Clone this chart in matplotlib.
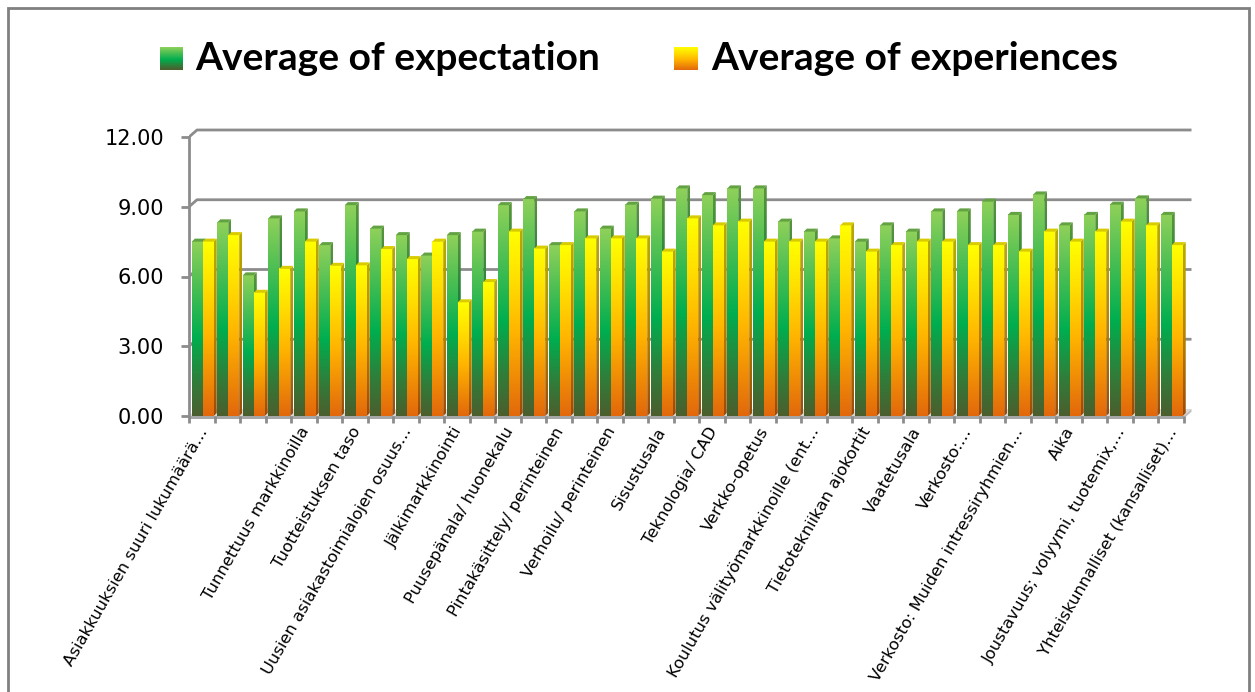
import numpy as np
import matplotlib
matplotlib.use("Agg")
import matplotlib.pyplot as plt
from matplotlib.colors import LinearSegmentedColormap
from matplotlib.patches import Polygon, Rectangle
from matplotlib.transforms import ScaledTranslation

# ---- data ---------------------------------------------------------------
series_names = ["Average of expectation", "Average of experiences"]

expectation = [7.50, 8.33, 6.05, 8.50, 8.80, 7.35, 9.07, 8.06, 7.78, 6.90,
               7.78, 7.93, 9.07, 9.33, 7.35, 8.80, 8.06, 9.09, 9.35, 9.79,
               9.50, 9.79, 9.79, 8.36, 7.93, 7.64, 7.50, 8.20, 7.93, 8.80,
               8.80, 9.22, 8.65, 9.53, 8.20, 8.65, 9.09, 9.36, 8.65]

experiences = [7.50, 7.78, 5.30, 6.33, 7.50, 6.46, 6.48, 7.18, 6.75, 7.50,
               4.89, 5.76, 7.93, 7.20, 7.35, 7.64, 7.64, 7.64, 7.07, 8.50,
               8.20, 8.36, 7.50, 7.50, 7.50, 8.20, 7.07, 7.35, 7.50, 7.50,
               7.35, 7.35, 7.07, 7.93, 7.50, 7.93, 8.36, 8.20, 7.35]

# every second category carries a visible label
category_labels = [
    "Asiakkuuksien suuri lukumäärä…",
    "",
    "Tunnettuus markkinoilla",
    "Tuotteistuksen taso",
    "Uusien asiakastoimialojen osuus…",
    "Jälkimarkkinointi",
    "Puusepänala/ huonekalu",
    "Pintakäsittely/ perinteinen",
    "Verhoilu/ perinteinen",
    "Sisustusala",
    "Teknologia/ CAD",
    "Verkko-opetus",
    "Koulutus välityömarkkinoille (ent…",
    "Tietotekniikan ajokortit",
    "Vaatetusala",
    "Verkosto:…",
    "Verkosto: Muiden intressiryhmien…",
    "Aika",
    "Joustavuus; volyymi, tuotemix,…",
    "Yhteiskunnalliset (kansalliset)…",
]

y_ticks = [0, 3, 6, 9, 12]

# ---- styling -----------------------------------------------------------
W, H = 1255, 692
GRID = "#8C8C8C"

green_front = LinearSegmentedColormap.from_list(
    "gf", [(0, "#4B5E2E"), (0.18, "#337A38"), (0.45, "#00AE4F"),
           (0.75, "#4DBF53"), (1, "#8FD15A")])
green_side = LinearSegmentedColormap.from_list(
    "gs", [(0, "#34421F"), (0.45, "#00793A"), (1, "#5A963C")])
yellow_front = LinearSegmentedColormap.from_list(
    "yf", [(0, "#E2680C"), (0.45, "#FFB400"), (0.75, "#FFE000"), (1, "#FFFF00")])
yellow_side = LinearSegmentedColormap.from_list(
    "ys", [(0, "#9C4A08"), (0.45, "#B58000"), (1, "#B8AC00")])
green_top = "#62A242"
yellow_top = "#D8CB00"

fig = plt.figure(figsize=(W / 100, H / 100), dpi=100)

# chart frame
fig.patches.append(Rectangle((8 / W, -0.05), (1249 - 8) / W, 1 - 8 / H + 0.05,
                             transform=fig.transFigure, fill=False,
                             edgecolor="#808080", linewidth=2))

cat_px, unit_px = 25.5, 23.25
left_px, right_px, top_px, base_px = 189, 1200, 120, 416
ax = fig.add_axes([left_px / W, 1 - base_px / H,
                   (right_px - left_px) / W, (base_px - top_px) / H])
ax.set_xlim(-0.5, -0.5 + (right_px - left_px) / cat_px)
ax.set_ylim(0, (base_px - top_px) / unit_px)
ax.patch.set_alpha(0)

n = len(expectation)
dx, dy = 8 / cat_px, 7 / unit_px        # depth of the walls
sdx, sdy = 3 / cat_px, 3 / unit_px      # depth of each column
bw = 0.43

# back-wall gridlines
for v in y_ticks[1:]:
    ax.plot([-0.5, -0.5 + dx, n - 0.5 + dx], [v, v + dy, v + dy],
            color=GRID, lw=2, solid_capstyle="butt", zorder=1)

# floor slab
ax.add_patch(Polygon([(-0.5, 0), (n - 0.5, 0), (n - 0.5 + dx, dy), (-0.5 + dx, dy)],
                     closed=True, facecolor="#D9D9D9", edgecolor="none", zorder=1))
ax.add_patch(Rectangle((-0.5, -0.12), n, 0.12, facecolor="#A6A6A6",
                       edgecolor="none", zorder=1, clip_on=False))
ax.add_patch(Polygon([(n - 0.5, -0.12), (n - 0.5, 0), (n - 0.5 + dx, dy),
                      (n - 0.5 + dx, dy - 0.12)], closed=True,
                     facecolor="#BFBFBF", edgecolor="none", zorder=1, clip_on=False))

grad = np.linspace(0, 1, 256).reshape(-1, 1)


def column(x0, v, cm_front, cm_side, top_color, z):
    ax.imshow(grad, extent=[x0, x0 + bw, 0, v], origin="lower", cmap=cm_front,
              aspect="auto", interpolation="bilinear", zorder=z)
    side = Polygon([(x0 + bw, 0), (x0 + bw + sdx, sdy), (x0 + bw + sdx, v + sdy),
                    (x0 + bw, v)], closed=True, facecolor="none",
                   edgecolor="none", transform=ax.transData)
    ax.add_patch(side)
    im = ax.imshow(grad, extent=[x0 + bw, x0 + bw + sdx, 0, v + sdy],
                   origin="lower", cmap=cm_side, aspect="auto",
                   interpolation="bilinear", zorder=z)
    im.set_clip_path(side)
    ax.add_patch(Polygon([(x0, v), (x0 + bw, v), (x0 + bw + sdx, v + sdy),
                          (x0 + sdx, v + sdy)], closed=True,
                         facecolor=top_color, edgecolor="none", zorder=z))


for i in range(n):
    column(i - 0.39, expectation[i], green_front, green_side, green_top, 2 + i * 0.01)
    column(i + 0.04, experiences[i], yellow_front, yellow_side, yellow_top, 2.005 + i * 0.01)

# axes, ticks and labels
for s in ("top", "right", "bottom"):
    ax.spines[s].set_visible(False)
ax.spines["left"].set_bounds(0, 12)
ax.spines["left"].set_color(GRID)
ax.spines["left"].set_linewidth(2)

ax.set_yticks(y_ticks)
ax.set_yticklabels([f"{v:.2f}" for v in y_ticks])
ax.tick_params(axis="y", length=6, width=2, color=GRID, pad=12,
               labelsize=15, labelcolor="black")

ax.set_xticks(np.arange(n + 1) - 0.5)
ax.set_xticklabels([])
ax.tick_params(axis="x", which="major", length=5, width=2, color=GRID)
ax.set_xticks(np.arange(0, n, 2), minor=True)
ax.set_xticklabels(category_labels, minor=True, rotation=60, ha="right",
                   va="center", rotation_mode="anchor", fontsize=11.8)
ax.tick_params(axis="x", which="minor", length=0, pad=9)
shift = ScaledTranslation(2 / 100, 0, fig.dpi_scale_trans)
for lab in ax.get_xticklabels(minor=True):
    lab.set_transform(lab.get_transform() + shift)

# legend
def legend_swatch(px, cmap):
    sw = fig.add_axes([px / W, 1 - 70 / H, 23 / W, 23 / H])
    sw.imshow(grad, origin="lower", cmap=cmap, aspect="auto", extent=[0, 1, 0, 1])
    sw.axis("off")


legend_swatch(160, green_front)
legend_swatch(674, yellow_front)
fig.text(195 / W, 1 - 59 / H, series_names[0], fontsize=28, fontweight="bold",
         family="Lato", va="center", ha="left")
fig.text(711 / W, 1 - 59 / H, series_names[1], fontsize=28, fontweight="bold",
         family="Lato", va="center", ha="left")

fig.savefig("out.png", dpi=100)
